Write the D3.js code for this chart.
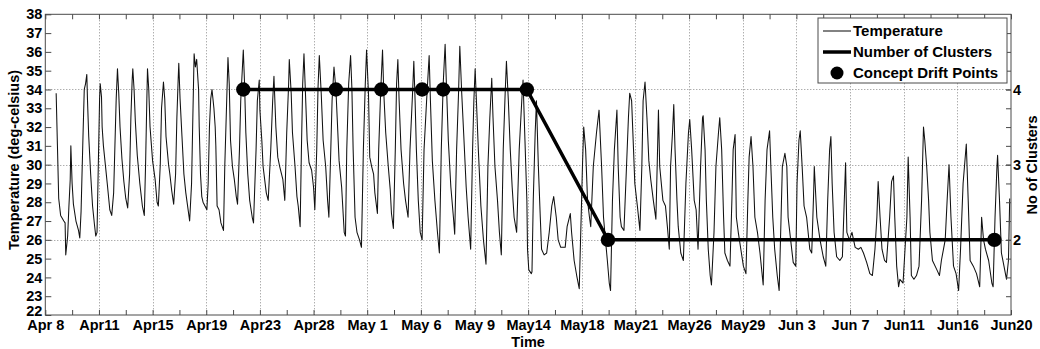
<!DOCTYPE html>
<html><head><meta charset="utf-8">
<script src="https://cdn.jsdelivr.net/npm/d3@7"></script>
<style>
body{margin:0;background:#fff}
svg text{font-family:"Liberation Sans",Arial,Helvetica,sans-serif;font-weight:bold;fill:#000}
</style>
</head><body>
<svg id="chart" width="1040" height="349"></svg>
<script>
// ---- data ----
const tickLabels = ["Apr 8","Apr11","Apr15","Apr19","Apr23","Apr28","May 1","May 6","May 9","May14","May18","May21","May26","May29","Jun 3","Jun 7","Jun11","Jun16","Jun20"];
const tickHours = [0,84,168,252,336,420,504,588,672,756,840,924,1008,1092,1176,1260,1344,1428,1512];
const minorTickHours = [42,126,210,294,378,462,546,630,714,798,882,966,1050,1134,1218,1302,1386,1470];
const tempTicks = [22,23,24,25,26,27,28,29,30,31,32,33,34,35,36,37,38];
const clusterTicks = [2,3,4];
const clusterMinorTicks = [1.25,1.5,1.75,2,2.25,2.5,2.75,3,3.25,3.5,3.75,4,4.25,4.5,4.75];

const tempHours = [
17,19,21,24,29,31,32,35,37,39,40,42,44,48,52,54,56,59,61,63,65,66,68,71,74,77,79,81,83,85,86,88,89,91,94,97,101,104,107,109,111,113,115,117,120,123,126,129,132,134,136,137,139,141,144,148,152,155,157,159,160,162,164,168,172,175,177,180,182,185,187,189,193,195,198,201,204,206,208,209,211,214,217,220,224,226,229,231,233,235,237,240,241,243,245,247,250,253,255,257,259,261,264,266,
267,269,272,275,279,281,284,286,288,290,293,296,299,301,304,306,310,312,314,317,320,324,326,330,332,335,336,339,341,346,349,353,356,358,361,364,367,372,375,378,381,382,385,387,391,394,396,399,401,403,405,407,410,413,417,420,422,425,427,429,432,435,439,442,444,447,449,452,455,457,460,464,468,470,472,475,478,480,482,485,488,492,495,498,501,503,
506,508,511,514,516,520,522,525,528,530,533,537,540,542,545,548,550,552,554,557,561,564,568,571,575,577,579,581,584,587,590,593,597,601,603,606,610,614,617,620,623,626,628,631,635,639,641,644,647,649,652,655,659,662,666,669,671,673,675,678,682,686,690,693,696,699,701,704,708,711,714,717,720,722,725,728,731,734,738,742,746,748,751,754,755,757,761,762,
764,767,769,772,775,777,781,785,789,793,796,800,803,807,811,814,817,822,824,828,832,836,839,841,843,846,849,852,854,858,863,867,871,874,876,880,883,885,888,891,895,897,900,902,906,910,913,915,918,921,923,927,931,934,936,939,942,945,948,952,956,958,960,962,967,971,974,977,979,982,984,986,989,991,995,999,1003,1007,1009,1012,
1016,1019,1022,1026,1029,1030,1033,1035,1038,1041,1043,1047,1050,1054,1056,1059,1062,1064,1068,1072,1075,1077,1080,1082,1085,1089,1093,1097,1100,1102,1105,1108,1111,1115,1119,1124,1127,1130,1134,1136,1139,1142,1146,1149,1152,1154,1158,1161,1163,1167,1171,1175,1177,1180,1182,1185,1188,1192,1197,1200,1203,1204,1208,1213,1218,1222,1225,1228,1230,1232,1235,1239,1244,1248,1251,1253,
1255,1259,1263,1268,1273,1277,1281,1286,1291,1295,1299,1302,1304,1307,1310,1314,1317,1322,1325,1328,1330,1333,1336,1338,1343,1349,1351,1354,1356,1360,1364,1368,1372,1375,1377,1380,1383,1385,1389,1396,1400,1403,1409,1412,1415,1418,1422,1426,1430,1433,1437,1442,1445,1448,1453,1458,1463,1466,1469,1472,1477,1482,1484,1487,1490,1491,1494,1497,1501,1505,1508,1510
];
const tempValues = [
33.8,31.0,28.2,27.3,27.0,26.9,25.2,26.2,27.8,29.2,31.0,29.0,27.9,27.0,26.5,26.1,27.5,31.5,34.0,34.3,34.8,33.5,31.5,29.5,27.8,26.8,26.2,26.4,30.0,33.5,34.3,33.6,32.0,31.0,30.0,29.0,27.6,27.3,28.5,31.0,33.5,35.1,33.8,32.0,30.3,29.1,28.2,27.7,29.5,32.5,34.5,35.1,34.0,32.3,30.5,29.0,27.8,27.3,30.0,33.5,35.1,34.0,32.0,30.2,29.2,28.0,27.8,30.0,33.0,34.4,33.5,31.5,30.0,29.5,28.6,27.9,29.5,32.5,34.5,35.4,33.5,31.5,29.5,28.5,27.5,27.0,29.0,32.5,35.9,35.2,35.6,34.0,32.0,29.5,28.3,28.0,27.8,27.6,29.0,32.0,33.5,34.0,33.0,32.0,
31.0,27.8,27.6,26.9,26.5,29.9,33.4,35.7,34.3,31.3,29.9,29.2,28.3,27.9,30.8,33.4,36.1,34.3,31.7,29.5,28.1,27.2,26.9,30.8,33.4,34.5,32.9,31.3,29.9,28.5,28.1,30.8,33.4,34.7,32.0,30.4,29.9,29.2,28.1,31.7,34.3,35.6,33.8,31.7,29.9,28.3,27.8,26.7,30.8,34.3,35.9,34.1,31.3,30.1,29.7,28.8,27.6,30.8,34.1,35.8,33.8,31.3,29.9,28.1,27.2,30.8,33.4,35.2,34.0,32.5,30.2,28.8,26.4,26.2,30.8,34.3,35.8,34.1,30.8,27.2,26.4,26.0,25.6,30.8,34.3,36.1,
33.8,30.4,29.9,29.5,28.5,27.4,30.8,33.8,36.1,33.8,31.7,29.9,28.7,27.4,26.6,30.8,34.3,35.6,33.4,30.8,29.0,28.1,27.2,30.8,33.8,35.5,33.4,30.8,28.1,26.4,26.0,30.8,33.4,35.8,33.4,30.2,28.1,26.4,25.3,30.8,34.3,36.4,34.3,31.3,28.8,27.2,26.3,30.8,33.8,36.3,33.8,31.7,28.8,27.2,25.5,30.8,33.4,35.1,33.4,30.8,27.8,26.0,24.7,29.9,32.5,34.6,32.5,29.9,28.1,26.4,25.2,30.8,33.8,35.5,33.4,30.8,28.8,27.2,26.4,30.8,33.4,34.5,31.3,28.1,25.5,24.4,24.2,24.3,
28.1,31.7,33.4,29.9,27.2,25.5,25.2,25.3,26.4,27.8,28.3,27.2,26.0,25.6,25.6,25.6,26.7,27.4,26.4,24.9,24.1,23.4,27.2,29.9,32.0,30.8,28.1,27.2,26.7,29.9,31.7,32.9,29.9,27.2,26.4,24.9,23.7,23.3,28.1,30.8,32.9,29.9,27.2,26.7,26.5,29.9,32.5,33.8,33.4,30.8,29.0,27.8,26.5,29.9,33.4,34.4,32.5,30.2,29.2,28.1,27.1,29.9,32.9,29.9,28.1,27.8,26.7,25.5,29.9,31.7,33.2,30.8,28.1,26.7,25.3,24.9,29.0,31.7,32.4,30.8,
28.1,27.6,25.5,29.9,32.5,32.6,30.8,28.1,25.5,24.1,23.6,26.4,29.9,31.7,32.5,30.8,27.2,25.3,24.9,24.6,28.1,30.8,31.6,27.2,26.4,25.5,24.6,24.2,28.1,30.4,31.5,29.9,27.2,26.4,25.3,23.6,28.1,30.8,31.8,29.9,27.2,25.5,24.1,23.3,27.2,29.9,30.6,29.9,27.2,26.0,24.8,24.6,29.0,31.3,31.8,29.9,27.8,27.2,25.5,25.3,28.5,29.9,27.2,26.0,25.1,24.6,28.1,30.8,31.5,29.0,26.4,25.1,24.9,25.1,28.1,30.1,
26.4,26.0,26.4,25.6,25.5,25.6,25.3,24.8,24.2,24.1,25.5,27.2,29.1,27.2,25.5,24.9,24.8,27.2,29.1,29.4,27.2,24.6,23.5,23.9,23.7,27.2,30.4,27.2,24.1,23.9,24.1,24.6,28.1,32.0,31.3,29.9,28.1,26.4,24.9,24.4,24.1,24.9,26.0,28.1,30.0,27.2,24.6,24.2,23.3,25.5,29.0,31.1,28.1,24.9,24.6,24.2,23.5,27.2,26.0,25.5,24.9,23.7,23.5,27.2,29.9,30.5,28.1,25.3,24.6,23.9,24.9,28.2
];

const driftHours = [310,455,526,590,623,754,881,1486];
const driftClusters = [4,4,4,4,4,4,2,2];

// ---- layout ----
const L = 45.3, R = 1011, T = 14.3, B = 315;
const axisColor = "#4a4a4a";
const svg = d3.select("#chart");

const x = d3.scaleLinear().domain([0,1512]).range([L,R]);
const y = d3.scaleLinear().domain([22,38]).range([B,T]);
const yc = d3.scaleLinear().domain([1,5]).range([B,T]);

// grid
const grid = svg.append("g").attr("stroke","#8c8c8c").attr("stroke-width",1).attr("stroke-dasharray","1,2");
grid.selectAll("line.v").data(tickHours.slice(1,-1)).join("line")
  .attr("x1",d=>Math.round(x(d))+0.5).attr("x2",d=>Math.round(x(d))+0.5).attr("y1",T).attr("y2",B);
grid.selectAll("line.h").data(clusterTicks).join("line")
  .attr("y1",d=>Math.round(yc(d))+0.5).attr("y2",d=>Math.round(yc(d))+0.5).attr("x1",L).attr("x2",R);

// temperature line
const tempData = tempHours.map((h,i)=>[h,tempValues[i]]);
svg.append("path").datum(tempData)
  .attr("fill","none").attr("stroke","#111").attr("stroke-width",1.05).attr("stroke-linejoin","round")
  .attr("d", d3.line().x(d=>x(d[0])).y(d=>y(d[1])));

// clusters line + drift points
const clusterData = driftHours.map((h,i)=>[h,driftClusters[i]]);
svg.append("path").datum(clusterData)
  .attr("fill","none").attr("stroke","#000").attr("stroke-width",3.5)
  .attr("d", d3.line().x(d=>x(d[0])).y(d=>yc(d[1])));
svg.selectAll("circle.drift").data(clusterData).join("circle")
  .attr("cx",d=>x(d[0])).attr("cy",d=>yc(d[1])).attr("r",7.2).attr("fill","#000");

// axes
function styleAxis(g, fs){
  g.select(".domain").remove();
  g.selectAll(".tick line").attr("stroke",axisColor);
  g.selectAll(".tick text").attr("font-size",fs).attr("font-family",null).style("font-weight","bold").attr("fill","#000");
}
const fs = "14.5px";
svg.append("g").attr("transform",`translate(0,${B})`)
  .call(d3.axisBottom(x).tickValues(tickHours).tickFormat((d,i)=>tickLabels[i]).tickSize(-5).tickPadding(5))
  .call(g=>styleAxis(g,fs));
svg.append("g").attr("transform",`translate(0,${B})`)
  .call(d3.axisBottom(x).tickValues(minorTickHours).tickFormat("").tickSize(-5))
  .call(g=>styleAxis(g,fs));
svg.append("g").attr("transform",`translate(0,${T})`)
  .call(d3.axisTop(x).tickValues(tickHours.concat(minorTickHours)).tickFormat("").tickSize(-5))
  .call(g=>styleAxis(g,fs));
svg.append("g").attr("transform",`translate(${L},0)`)
  .call(d3.axisLeft(y).tickValues(tempTicks).tickFormat(d3.format("d")).tickSize(-6).tickPadding(3))
  .call(g=>styleAxis(g,fs))
  .call(g=>g.selectAll(".tick text").filter(d=>d===22).attr("dy","0.05em"));
svg.append("g").attr("transform",`translate(${R},0)`)
  .call(d3.axisRight(yc).tickValues(clusterTicks).tickFormat(d3.format("d")).tickSize(-5).tickPadding(2))
  .call(g=>styleAxis(g,fs));
svg.append("g").attr("transform",`translate(${R},0)`)
  .call(d3.axisRight(yc).tickValues(clusterMinorTicks).tickFormat("").tickSize(-5))
  .call(g=>styleAxis(g,fs));

// frame
svg.append("rect").attr("x",L).attr("y",T).attr("width",R-L).attr("height",B-T)
  .attr("fill","none").attr("stroke",axisColor).attr("stroke-width",1);

// axis titles
svg.append("text").attr("transform","translate(19,160) rotate(-90)").attr("text-anchor","middle")
  .attr("font-size","14.5px").text("Temperature (deg-celsius)");
svg.append("text").attr("transform","translate(1037,165) rotate(-90)").attr("text-anchor","middle")
  .attr("font-size","14.5px").text("No of Clusters");
svg.append("text").attr("x",(L+R)/2).attr("y",347).attr("text-anchor","middle")
  .attr("font-size","14.5px").text("Time");

// legend
const lg = svg.append("g");
lg.append("rect").attr("x",818).attr("y",18).attr("width",189).attr("height",65)
  .attr("fill","#fff").attr("stroke",axisColor).attr("stroke-width",1);
const legendItems = ["Temperature","Number of Clusters","Concept Drift Points"];
const rowY = [31,52,73];
lg.append("line").attr("x1",823).attr("x2",851).attr("y1",rowY[0]).attr("y2",rowY[0]).attr("stroke","#111").attr("stroke-width",1.05);
lg.append("line").attr("x1",823).attr("x2",851).attr("y1",rowY[1]).attr("y2",rowY[1]).attr("stroke","#000").attr("stroke-width",3.5);
lg.append("circle").attr("cx",837).attr("cy",rowY[2]).attr("r",6.5).attr("fill","#000");
lg.selectAll("text").data(legendItems).join("text")
  .attr("x",853).attr("y",(d,i)=>rowY[i]).attr("dy","0.36em").attr("font-size","15px").text(d=>d);
</script>
</body></html>
